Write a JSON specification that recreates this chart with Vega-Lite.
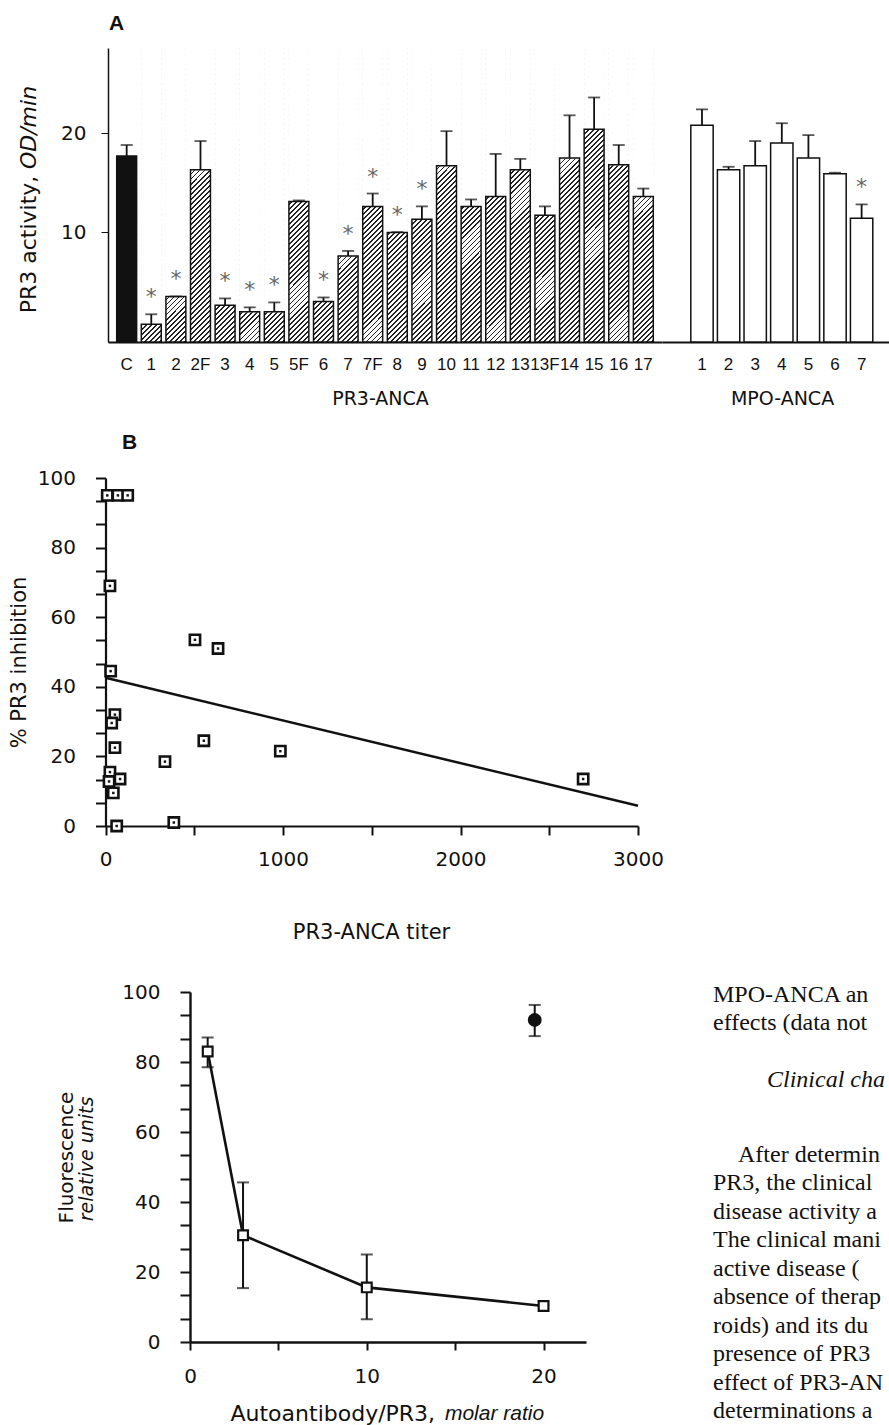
{
"$schema":"https://vega.github.io/schema/vega-lite/v6.json",
"width":889,"height":1425,"padding":0,"background":"white",
"config":{"view":{"stroke":null},"axis":{"grid":false,"domainColor":"#111","tickColor":"#111","labelColor":"#111","titleColor":"#111","labelFont":"DejaVu Sans","titleFont":"DejaVu Sans","titleFontWeight":"normal","labelFlush":false,"labelOverlap":false,"labelBound":false}},
"datasets":{
"pr3":[
{"key":"C","grp":"C","v":17.7,"hi":18.8,"sig":""},
{"key":"1","grp":"P","v":0.7,"hi":1.7,"sig":"*"},
{"key":"2","grp":"P","v":3.5,"hi":3.5,"sig":"*"},
{"key":"2F","grp":"P","v":16.3,"hi":19.2,"sig":""},
{"key":"3","grp":"P","v":2.6,"hi":3.3,"sig":"*"},
{"key":"4","grp":"P","v":1.95,"hi":2.4,"sig":"*"},
{"key":"5","grp":"P","v":1.95,"hi":2.9,"sig":"*"},
{"key":"5F","grp":"P","v":13.1,"hi":13.2,"sig":""},
{"key":"6","grp":"P","v":3.0,"hi":3.4,"sig":"*"},
{"key":"7","grp":"P","v":7.6,"hi":8.1,"sig":"*"},
{"key":"7F","grp":"P","v":12.6,"hi":13.9,"sig":"*"},
{"key":"8","grp":"P","v":9.95,"hi":10.0,"sig":"*"},
{"key":"9","grp":"P","v":11.3,"hi":12.6,"sig":"*"},
{"key":"10","grp":"P","v":16.7,"hi":20.2,"sig":""},
{"key":"11","grp":"P","v":12.6,"hi":13.3,"sig":""},
{"key":"12","grp":"P","v":13.6,"hi":17.9,"sig":""},
{"key":"13","grp":"P","v":16.3,"hi":17.4,"sig":""},
{"key":"13F","grp":"P","v":11.7,"hi":12.6,"sig":""},
{"key":"14","grp":"P","v":17.5,"hi":21.8,"sig":""},
{"key":"15","grp":"P","v":20.4,"hi":23.6,"sig":""},
{"key":"16","grp":"P","v":16.8,"hi":18.8,"sig":""},
{"key":"17","grp":"P","v":13.6,"hi":14.4,"sig":""}],
"mpo":[
{"key":"1","v":20.8,"hi":22.4,"sig":""},
{"key":"2","v":16.3,"hi":16.6,"sig":""},
{"key":"3","v":16.7,"hi":19.2,"sig":""},
{"key":"4","v":19.0,"hi":21.0,"sig":""},
{"key":"5","v":17.5,"hi":19.8,"sig":""},
{"key":"6","v":15.9,"hi":16.0,"sig":""},
{"key":"7","v":11.4,"hi":12.8,"sig":"*"}],
"bpts":[
{"titer":10,"inh":95},{"titer":70,"inh":95},{"titer":125,"inh":95},
{"titer":25,"inh":69},{"titer":29,"inh":44.5},{"titer":504,"inh":53.5},{"titer":634,"inh":51},
{"titer":53,"inh":32},{"titer":35,"inh":29.6},{"titer":53,"inh":22.5},{"titer":335,"inh":18.5},
{"titer":554,"inh":24.5},{"titer":985,"inh":21.5},{"titer":2691,"inh":13.5},{"titer":25,"inh":15.5},
{"titer":20,"inh":12.8},{"titer":82,"inh":13.5},{"titer":44,"inh":9.5},{"titer":63,"inh":0},{"titer":385,"inh":1}],
"cpts":[
{"r":1,"f":83,"lo":78.5,"hi":87,"s":"sq"},
{"r":3,"f":30.5,"lo":15.4,"hi":45.6,"s":"sq"},
{"r":10,"f":15.6,"lo":6.5,"hi":25,"s":"sq"},
{"r":20,"f":10.3,"lo":10.3,"hi":10.3,"s":"sq"},
{"r":19.5,"f":92,"lo":87.4,"hi":96.3,"s":"ctrl"}],
"body":[
{"t":"MPO-ANCA an","line":0,"kind":"body"},
{"t":"effects (data not","line":1,"kind":"body"},
{"t":"Clinical cha","line":3,"kind":"head"},
{"t":"After determin","line":5.6,"kind":"para"},
{"t":"PR3, the clinical","line":6.6,"kind":"body"},
{"t":"disease activity a","line":7.6,"kind":"body"},
{"t":"The clinical mani","line":8.6,"kind":"body"},
{"t":"active disease (","line":9.6,"kind":"body"},
{"t":"absence of therap","line":10.6,"kind":"body"},
{"t":"roids) and its du","line":11.6,"kind":"body"},
{"t":"presence of PR3","line":12.6,"kind":"body"},
{"t":"effect of PR3-AN","line":13.6,"kind":"body"},
{"t":"determinations a","line":14.6,"kind":"body"}]
},
"layer":[
{
"data":{"name":"pr3"},
"encoding":{"x":{"field":"key","type":"nominal","sort":null,
"scale":{"domain":["C","1","2","2F","3","4","5","5F","6","7","7F","8","9","10","11","12","13","13F","14","15","16","17"],"range":[108,662],"paddingInner":0.19,"paddingOuter":0.354},
"axis":{"orient":"bottom","offset":-1083,"ticks":false,"tickSize":0,"labelFont":"Liberation Sans","labelFontSize":17,"labelPadding":14,"labelAngle":0,"domainWidth":1.8,"title":"PR3-ANCA","titleFontSize":19,"titleX":380,"titleY":62,"titleAlign":"center","titleBaseline":"alphabetic"}}},
"layer":[
{"transform":[{"filter":"datum.grp=='P'"}],
"mark":{"type":"bar","stroke":null,"fill":{"gradient":"linear","x1":0,"y1":0,"x2":0.0721,"y2":1.0628,"stops":[
{"offset":0,"color":"#222"},{"offset":0.006,"color":"#222"},{"offset":0.006,"color":"#fff"},{"offset":0.016,"color":"#fff"},
{"offset":0.016,"color":"#222"},{"offset":0.022,"color":"#222"},{"offset":0.022,"color":"#fff"},{"offset":0.032,"color":"#fff"},
{"offset":0.032,"color":"#222"},{"offset":0.038,"color":"#222"},{"offset":0.038,"color":"#fff"},{"offset":0.048,"color":"#fff"},
{"offset":0.048,"color":"#222"},{"offset":0.054,"color":"#222"},{"offset":0.054,"color":"#fff"},{"offset":0.064,"color":"#fff"},
{"offset":0.064,"color":"#222"},{"offset":0.07,"color":"#222"},{"offset":0.07,"color":"#fff"},{"offset":0.08,"color":"#fff"},
{"offset":0.08,"color":"#222"},{"offset":0.086,"color":"#222"},{"offset":0.086,"color":"#fff"},{"offset":0.096,"color":"#fff"},
{"offset":0.096,"color":"#222"},{"offset":0.102,"color":"#222"},{"offset":0.102,"color":"#fff"},{"offset":0.112,"color":"#fff"},
{"offset":0.112,"color":"#222"},{"offset":0.118,"color":"#222"},{"offset":0.118,"color":"#fff"},{"offset":0.128,"color":"#fff"},
{"offset":0.128,"color":"#222"},{"offset":0.134,"color":"#222"},{"offset":0.134,"color":"#fff"},{"offset":0.144,"color":"#fff"},
{"offset":0.144,"color":"#222"},{"offset":0.15,"color":"#222"},{"offset":0.15,"color":"#fff"},{"offset":0.16,"color":"#fff"},
{"offset":0.16,"color":"#222"},{"offset":0.166,"color":"#222"},{"offset":0.166,"color":"#fff"},{"offset":0.176,"color":"#fff"},
{"offset":0.176,"color":"#222"},{"offset":0.182,"color":"#222"},{"offset":0.182,"color":"#fff"},{"offset":0.192,"color":"#fff"},
{"offset":0.192,"color":"#222"},{"offset":0.198,"color":"#222"},{"offset":0.198,"color":"#fff"},{"offset":0.208,"color":"#fff"},
{"offset":0.208,"color":"#222"},{"offset":0.214,"color":"#222"},{"offset":0.214,"color":"#fff"},{"offset":0.224,"color":"#fff"},
{"offset":0.224,"color":"#222"},{"offset":0.23,"color":"#222"},{"offset":0.23,"color":"#fff"},{"offset":0.24,"color":"#fff"},
{"offset":0.24,"color":"#222"},{"offset":0.246,"color":"#222"},{"offset":0.246,"color":"#fff"},{"offset":0.256,"color":"#fff"},
{"offset":0.256,"color":"#222"},{"offset":0.262,"color":"#222"},{"offset":0.262,"color":"#fff"},{"offset":0.272,"color":"#fff"},
{"offset":0.272,"color":"#222"},{"offset":0.278,"color":"#222"},{"offset":0.278,"color":"#fff"},{"offset":0.288,"color":"#fff"},
{"offset":0.288,"color":"#222"},{"offset":0.294,"color":"#222"},{"offset":0.294,"color":"#fff"},{"offset":0.304,"color":"#fff"},
{"offset":0.304,"color":"#222"},{"offset":0.31,"color":"#222"},{"offset":0.31,"color":"#fff"},{"offset":0.32,"color":"#fff"},
{"offset":0.32,"color":"#222"},{"offset":0.326,"color":"#222"},{"offset":0.326,"color":"#fff"},{"offset":0.336,"color":"#fff"},
{"offset":0.336,"color":"#222"},{"offset":0.342,"color":"#222"},{"offset":0.342,"color":"#fff"},{"offset":0.352,"color":"#fff"},
{"offset":0.352,"color":"#222"},{"offset":0.358,"color":"#222"},{"offset":0.358,"color":"#fff"},{"offset":0.368,"color":"#fff"},
{"offset":0.368,"color":"#222"},{"offset":0.374,"color":"#222"},{"offset":0.374,"color":"#fff"},{"offset":0.384,"color":"#fff"},
{"offset":0.384,"color":"#222"},{"offset":0.39,"color":"#222"},{"offset":0.39,"color":"#fff"},{"offset":0.4,"color":"#fff"},
{"offset":0.4,"color":"#222"},{"offset":0.406,"color":"#222"},{"offset":0.406,"color":"#fff"},{"offset":0.416,"color":"#fff"},
{"offset":0.416,"color":"#222"},{"offset":0.422,"color":"#222"},{"offset":0.422,"color":"#fff"},{"offset":0.432,"color":"#fff"},
{"offset":0.432,"color":"#222"},{"offset":0.438,"color":"#222"},{"offset":0.438,"color":"#fff"},{"offset":0.448,"color":"#fff"},
{"offset":0.448,"color":"#222"},{"offset":0.454,"color":"#222"},{"offset":0.454,"color":"#fff"},{"offset":0.464,"color":"#fff"},
{"offset":0.464,"color":"#222"},{"offset":0.47,"color":"#222"},{"offset":0.47,"color":"#fff"},{"offset":0.48,"color":"#fff"},
{"offset":0.48,"color":"#222"},{"offset":0.486,"color":"#222"},{"offset":0.486,"color":"#fff"},{"offset":0.496,"color":"#fff"},
{"offset":0.496,"color":"#222"},{"offset":0.502,"color":"#222"},{"offset":0.502,"color":"#fff"},{"offset":0.512,"color":"#fff"},
{"offset":0.512,"color":"#222"},{"offset":0.518,"color":"#222"},{"offset":0.518,"color":"#fff"},{"offset":0.528,"color":"#fff"},
{"offset":0.528,"color":"#222"},{"offset":0.534,"color":"#222"},{"offset":0.534,"color":"#fff"},{"offset":0.544,"color":"#fff"},
{"offset":0.544,"color":"#222"},{"offset":0.55,"color":"#222"},{"offset":0.55,"color":"#fff"},{"offset":0.56,"color":"#fff"},
{"offset":0.56,"color":"#222"},{"offset":0.566,"color":"#222"},{"offset":0.566,"color":"#fff"},{"offset":0.576,"color":"#fff"},
{"offset":0.576,"color":"#222"},{"offset":0.582,"color":"#222"},{"offset":0.582,"color":"#fff"},{"offset":0.592,"color":"#fff"},
{"offset":0.592,"color":"#222"},{"offset":0.598,"color":"#222"},{"offset":0.598,"color":"#fff"},{"offset":0.608,"color":"#fff"},
{"offset":0.608,"color":"#222"},{"offset":0.614,"color":"#222"},{"offset":0.614,"color":"#fff"},{"offset":0.624,"color":"#fff"},
{"offset":0.624,"color":"#222"},{"offset":0.63,"color":"#222"},{"offset":0.63,"color":"#fff"},{"offset":0.64,"color":"#fff"},
{"offset":0.64,"color":"#222"},{"offset":0.646,"color":"#222"},{"offset":0.646,"color":"#fff"},{"offset":0.656,"color":"#fff"},
{"offset":0.656,"color":"#222"},{"offset":0.662,"color":"#222"},{"offset":0.662,"color":"#fff"},{"offset":0.672,"color":"#fff"},
{"offset":0.672,"color":"#222"},{"offset":0.678,"color":"#222"},{"offset":0.678,"color":"#fff"},{"offset":0.688,"color":"#fff"},
{"offset":0.688,"color":"#222"},{"offset":0.694,"color":"#222"},{"offset":0.694,"color":"#fff"},{"offset":0.704,"color":"#fff"},
{"offset":0.704,"color":"#222"},{"offset":0.71,"color":"#222"},{"offset":0.71,"color":"#fff"},{"offset":0.72,"color":"#fff"},
{"offset":0.72,"color":"#222"},{"offset":0.726,"color":"#222"},{"offset":0.726,"color":"#fff"},{"offset":0.736,"color":"#fff"},
{"offset":0.736,"color":"#222"},{"offset":0.742,"color":"#222"},{"offset":0.742,"color":"#fff"},{"offset":0.752,"color":"#fff"},
{"offset":0.752,"color":"#222"},{"offset":0.758,"color":"#222"},{"offset":0.758,"color":"#fff"},{"offset":0.768,"color":"#fff"},
{"offset":0.768,"color":"#222"},{"offset":0.774,"color":"#222"},{"offset":0.774,"color":"#fff"},{"offset":0.784,"color":"#fff"},
{"offset":0.784,"color":"#222"},{"offset":0.79,"color":"#222"},{"offset":0.79,"color":"#fff"},{"offset":0.8,"color":"#fff"},
{"offset":0.8,"color":"#222"},{"offset":0.806,"color":"#222"},{"offset":0.806,"color":"#fff"},{"offset":0.816,"color":"#fff"},
{"offset":0.816,"color":"#222"},{"offset":0.822,"color":"#222"},{"offset":0.822,"color":"#fff"},{"offset":0.832,"color":"#fff"},
{"offset":0.832,"color":"#222"},{"offset":0.838,"color":"#222"},{"offset":0.838,"color":"#fff"},{"offset":0.848,"color":"#fff"},
{"offset":0.848,"color":"#222"},{"offset":0.854,"color":"#222"},{"offset":0.854,"color":"#fff"},{"offset":0.864,"color":"#fff"},
{"offset":0.864,"color":"#222"},{"offset":0.87,"color":"#222"},{"offset":0.87,"color":"#fff"},{"offset":0.88,"color":"#fff"},
{"offset":0.88,"color":"#222"},{"offset":0.886,"color":"#222"},{"offset":0.886,"color":"#fff"},{"offset":0.896,"color":"#fff"},
{"offset":0.896,"color":"#222"},{"offset":0.902,"color":"#222"},{"offset":0.902,"color":"#fff"},{"offset":0.912,"color":"#fff"},
{"offset":0.912,"color":"#222"},{"offset":0.918,"color":"#222"},{"offset":0.918,"color":"#fff"},{"offset":0.928,"color":"#fff"},
{"offset":0.928,"color":"#222"},{"offset":0.934,"color":"#222"},{"offset":0.934,"color":"#fff"},{"offset":0.944,"color":"#fff"},
{"offset":0.944,"color":"#222"},{"offset":0.95,"color":"#222"},{"offset":0.95,"color":"#fff"},{"offset":0.96,"color":"#fff"},
{"offset":0.96,"color":"#222"},{"offset":0.966,"color":"#222"},{"offset":0.966,"color":"#fff"},{"offset":0.976,"color":"#fff"},
{"offset":0.976,"color":"#222"},{"offset":0.982,"color":"#222"},{"offset":0.982,"color":"#fff"},{"offset":0.992,"color":"#fff"},
{"offset":0.992,"color":"#222"},{"offset":0.998,"color":"#222"},{"offset":0.998,"color":"#fff"},{"offset":1,"color":"#fff"}]}},
"encoding":{"y":{"datum":28.6,"type":"quantitative","scale":{"domain":[-1.1,28.6],"range":[342,48],"nice":false,"zero":false}},"y2":{"datum":-1.1}}},
{"transform":[{"filter":"datum.grp=='P'"}],
"mark":{"type":"bar","fill":"white","stroke":"white","strokeWidth":1},
"encoding":{"y":{"field":"v","type":"quantitative"},"y2":{"datum":28.6}}},
{"mark":{"type":"bar","stroke":"#111","strokeWidth":1.5},
"encoding":{"y":{"field":"v","type":"quantitative","scale":{"domain":[-1.1,28.6],"range":[342,48],"nice":false,"zero":false},
"axis":{"orient":"left","offset":-108,"values":[10,20],"tickSize":7,"labelPadding":15,"labelFontSize":20,"domainWidth":1.5,"title":"PR3 activity,","titleFontSize":22,"titleX":-80,"titleY":244,"titleAngle":270,"titleAlign":"center","titleBaseline":"middle"}},
"y2":{"datum":-1.1},
"fill":{"condition":{"test":"datum.grp=='C'","value":"#111"},"value":"transparent"}}},
{"mark":{"type":"rule","strokeWidth":1.8,"color":"#111"},
"encoding":{"y":{"field":"v","type":"quantitative"},"y2":{"field":"hi"}}},
{"mark":{"type":"tick","orient":"horizontal","size":12,"thickness":1.8,"color":"#111"},
"encoding":{"y":{"field":"hi","type":"quantitative"}}},
{"transform":[{"filter":"datum.sig=='*'"}],
"mark":{"type":"text","font":"DejaVu Sans","fontSize":22,"color":"#666","baseline":"alphabetic","dy":-10},
"encoding":{"y":{"field":"hi","type":"quantitative"},"text":{"field":"sig"}}},
{"data":{"values":[{"lab":"A"}]},
"mark":{"type":"text","font":"Liberation Sans","fontWeight":"bold","fontSize":21,"color":"#111","baseline":"middle","align":"center","dx":-10},
"encoding":{"x":{"datum":"C"},"y":{"datum":31},"text":{"field":"lab"}}}
]},
{
"data":{"name":"mpo"},
"encoding":{"x":{"field":"key","type":"nominal","sort":null,
"scale":{"domain":["1","2","3","4","5","6","7"],"range":[662,889],"paddingInner":0.16,"paddingOuter":0.846,"align":0.64},
"axis":{"orient":"bottom","offset":-1083,"ticks":false,"tickSize":0,"labelFont":"Liberation Sans","labelFontSize":17,"labelPadding":14,"labelAngle":0,"domainWidth":1.8,"title":"MPO-ANCA","titleFontSize":19,"titleX":782,"titleY":62,"titleAlign":"center","titleBaseline":"alphabetic"}}},
"layer":[
{"mark":{"type":"bar","fill":"white","stroke":"#111","strokeWidth":1.5},
"encoding":{"y":{"field":"v","type":"quantitative","scale":{"domain":[-1.1,28.6],"range":[342,48],"nice":false,"zero":false},
"axis":{"orient":"left","offset":-108,"domain":false,"ticks":false,"labels":false,"title":"OD/min","titleFontStyle":"italic","titleFontSize":22,"titleX":-80,"titleY":127,"titleAngle":270,"titleAlign":"center","titleBaseline":"middle"}},"y2":{"datum":-1.1}}},
{"mark":{"type":"rule","strokeWidth":1.8,"color":"#111"},
"encoding":{"y":{"field":"v","type":"quantitative"},"y2":{"field":"hi"}}},
{"mark":{"type":"tick","orient":"horizontal","size":12,"thickness":1.8,"color":"#111"},
"encoding":{"y":{"field":"hi","type":"quantitative"}}},
{"transform":[{"filter":"datum.sig=='*'"}],
"mark":{"type":"text","font":"DejaVu Sans","fontSize":22,"color":"#666","baseline":"alphabetic","dy":-10},
"encoding":{"y":{"field":"hi","type":"quantitative"},"text":{"field":"sig"}}}
]},
{
"layer":[
{"data":{"values":[{"titer":0,"inh":42.6},{"titer":3000,"inh":5.8}]},
"mark":{"type":"line","strokeWidth":2.5,"color":"#111"},
"encoding":{
"x":{"field":"titer","type":"quantitative","scale":{"domain":[0,3000],"range":[105.5,638],"nice":false,"zero":false},
"axis":{"orient":"bottom","offset":-599,"values":[0,500,1000,1500,2000,2500,3000],"format":"d","labelExpr":"datum.value % 1000 == 0 ? datum.label : ''","tickSize":9,"tickWidth":2,"domainWidth":2.2,"labelFontSize":20,"labelPadding":14,"title":"PR3-ANCA titer","titleFontSize":21,"titleX":371,"titleY":112,"titleAlign":"center","titleBaseline":"alphabetic"}},
"y":{"field":"inh","type":"quantitative","scale":{"domain":[0,100],"range":[826,478],"nice":false,"zero":false},
"axis":{"orient":"left","offset":-105.5,"values":[0,6.667,13.333,20,26.667,33.333,40,46.667,53.333,60,66.667,73.333,80,86.667,93.333,100],"labelExpr":"datum.value % 20 == 0 ? datum.label : ''","tickSize":10,"tickWidth":2,"domainWidth":2.2,"labelFontSize":20,"labelPadding":20,"title":"% PR3 inhibition","titleFontSize":21,"titleX":-86.5,"titleY":662,"titleAngle":270,"titleAlign":"center","titleBaseline":"middle"}}}},
{"data":{"name":"bpts"},
"mark":{"type":"point","shape":"square","filled":true,"fill":"white","stroke":"#111","strokeWidth":2.6,"size":105,"opacity":1},
"encoding":{"x":{"field":"titer","type":"quantitative"},"y":{"field":"inh","type":"quantitative"}}},
{"data":{"name":"bpts"},
"mark":{"type":"point","shape":"square","filled":true,"color":"#111","size":6,"opacity":1},
"encoding":{"x":{"field":"titer","type":"quantitative"},"y":{"field":"inh","type":"quantitative"}}},
{"data":{"values":[{"lab":"B"}]},
"mark":{"type":"text","font":"Liberation Sans","fontWeight":"bold","fontSize":21,"color":"#111","baseline":"middle","align":"center"},
"encoding":{"x":{"datum":135,"type":"quantitative"},"y":{"datum":110,"type":"quantitative"},"text":{"field":"lab"}}}
]},
{
"layer":[
{"data":{"name":"cpts"},"transform":[{"filter":"datum.s=='sq'"}],"mark":{"type":"line","strokeWidth":2.6,"color":"#111"},
"encoding":{
"x":{"field":"r","type":"quantitative","scale":{"domain":[0,22.4],"range":[190,586],"nice":false,"zero":false},
"axis":{"orient":"bottom","offset":-83,"values":[0,5,10,15,20],"labelExpr":"datum.value % 10 == 0 ? datum.label : ''","tickSize":8,"tickWidth":2,"domainWidth":2.4,"labelFontSize":20,"labelPadding":16,"title":"Autoantibody/PR3,","titleFontSize":22,"titleX":230,"titleY":78,"titleAlign":"left","titleBaseline":"alphabetic"}},
"y":{"field":"f","type":"quantitative","scale":{"domain":[0,100],"range":[1342,992],"nice":false,"zero":false},
"axis":{"orient":"left","offset":-190,"values":[0,6.667,13.333,20,26.667,33.333,40,46.667,53.333,60,66.667,73.333,80,86.667,93.333,100],"labelExpr":"datum.value % 20 == 0 ? datum.label : ''","tickSize":10,"tickWidth":2,"domainWidth":2.4,"labelFontSize":20,"labelPadding":20,"title":"Fluorescence","titleFontSize":20,"titleX":-124,"titleY":1157,"titleAngle":270,"titleAlign":"center","titleBaseline":"middle"}}}},
{"data":{"name":"cpts"},"transform":[{"filter":"datum.hi > datum.f"}],"mark":{"type":"rule","strokeWidth":2,"color":"#111"},
"encoding":{"x":{"field":"r","type":"quantitative"},"y":{"field":"lo","type":"quantitative"},"y2":{"field":"hi"}}},
{"data":{"name":"cpts"},"transform":[{"filter":"datum.hi > datum.f"}],"mark":{"type":"tick","orient":"horizontal","size":12,"thickness":2,"color":"#111"},
"encoding":{"x":{"field":"r","type":"quantitative"},"y":{"field":"lo","type":"quantitative"}}},
{"data":{"name":"cpts"},"transform":[{"filter":"datum.hi > datum.f"}],"mark":{"type":"tick","orient":"horizontal","size":12,"thickness":2,"color":"#111"},
"encoding":{"x":{"field":"r","type":"quantitative"},"y":{"field":"hi","type":"quantitative"}}},
{"data":{"name":"cpts"},"transform":[{"filter":"datum.s=='sq'"}],"mark":{"type":"point","shape":"square","filled":true,"fill":"white","stroke":"#111","strokeWidth":2.2,"size":95,"opacity":1},
"encoding":{"x":{"field":"r","type":"quantitative"},"y":{"field":"f","type":"quantitative"}}},
{"data":{"name":"cpts"},"transform":[{"filter":"datum.s=='ctrl'"}],"mark":{"type":"point","shape":"circle","filled":true,"color":"#111","size":190,"opacity":1},
"encoding":{"x":{"field":"r","type":"quantitative"},"y":{"field":"f","type":"quantitative"}}},
{"data":{"values":[{"lab":"relative units"}]},
"mark":{"type":"text","font":"DejaVu Sans","fontStyle":"italic","fontSize":19,"color":"#111","angle":270,"align":"center","baseline":"middle"},
"encoding":{"x":{"datum":-5.85,"type":"quantitative"},"y":{"datum":52.3,"type":"quantitative"},"text":{"field":"lab"}}},
{"data":{"values":[{"lab":"molar ratio"}]},
"mark":{"type":"text","font":"Liberation Sans","fontStyle":"italic","fontSize":21,"color":"#111","align":"left","baseline":"alphabetic"},
"encoding":{"x":{"datum":14.42,"type":"quantitative"},"y":{"datum":-22.3,"type":"quantitative"},"text":{"field":"lab"}}}
]},
{
"data":{"name":"body"},
"encoding":{
"x":{"datum":0,"type":"quantitative","scale":{"domain":[0,1],"range":[713,889],"nice":false,"zero":false},"axis":null},
"y":{"field":"line","type":"quantitative","scale":{"domain":[0,14.6],"range":[995,1411],"nice":false,"zero":false},"axis":null},
"text":{"field":"t"}},
"layer":[
{"transform":[{"filter":"datum.kind=='body'"}],"mark":{"type":"text","font":"Liberation Serif","fontSize":24,"color":"#111","align":"left","baseline":"middle"}},
{"transform":[{"filter":"datum.kind=='para'"}],"mark":{"type":"text","font":"Liberation Serif","fontSize":24,"color":"#111","align":"left","baseline":"middle","dx":25}},
{"transform":[{"filter":"datum.kind=='head'"}],"mark":{"type":"text","font":"Liberation Serif","fontStyle":"italic","fontSize":24,"color":"#111","align":"left","baseline":"middle","dx":54}}
]}
],
"resolve":{"scale":{"x":"independent","y":"independent"},"axis":{"x":"independent","y":"independent"}}
}
